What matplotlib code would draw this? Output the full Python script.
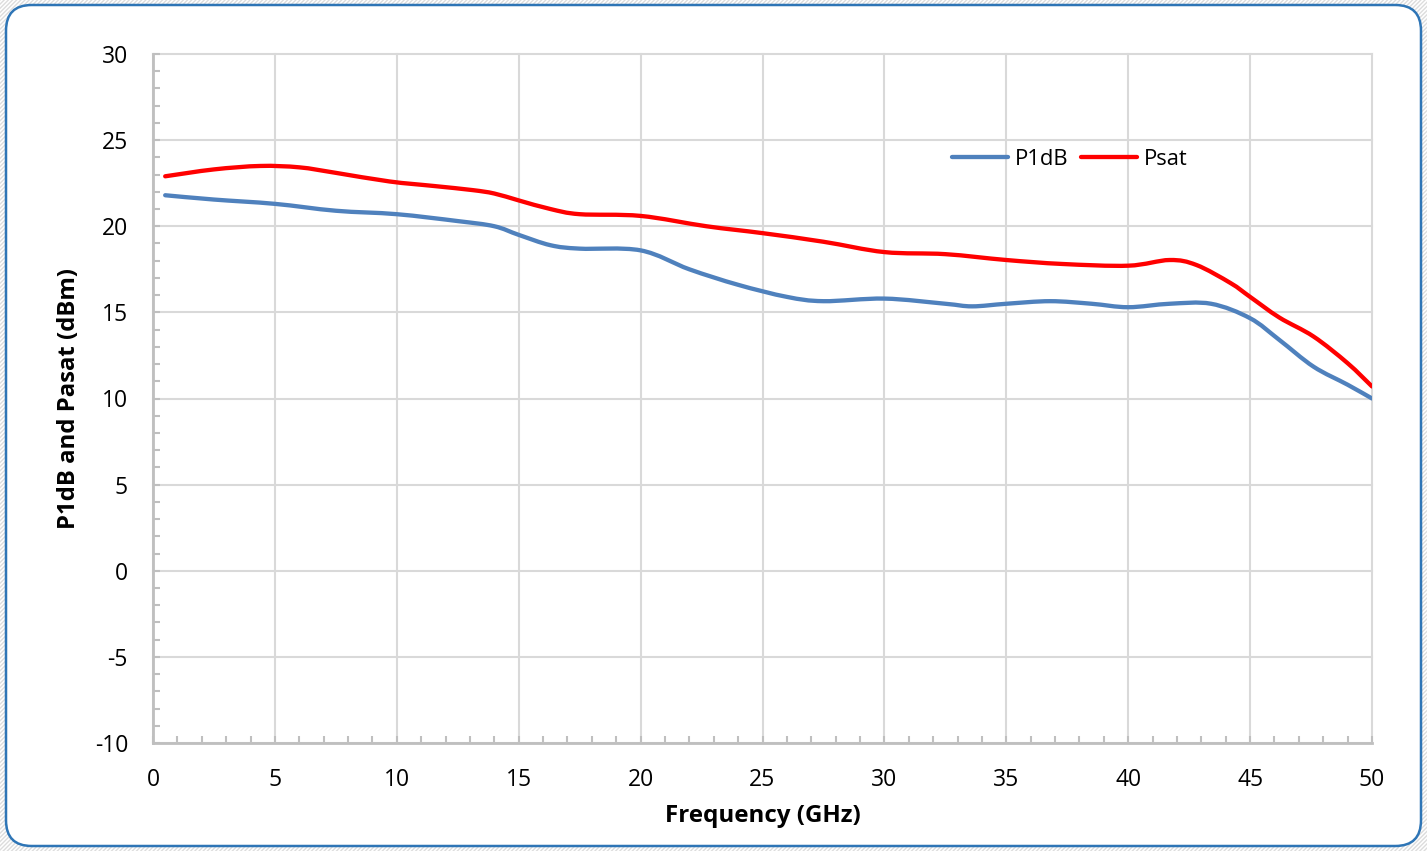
import numpy as np
import matplotlib
matplotlib.use("Agg")
import matplotlib.pyplot as plt
from matplotlib.patches import FancyBboxPatch, PathPatch
from matplotlib.path import Path
from matplotlib.lines import Line2D
from matplotlib.ticker import MultipleLocator

# valeurs
freq_p1db = [0.5, 2.5, 5, 7.5, 10, 12.5, 14, 15, 16.3, 17.5, 20, 22, 24, 26, 27.5,
             30, 32.5, 33.6, 35, 36.8, 38.5, 40, 41.7, 43.4, 45, 46.2, 47.6, 49, 50]
p1db = [21.8, 21.55, 21.3, 20.9, 20.7, 20.3, 20.0, 19.5, 18.9, 18.7, 18.6, 17.5, 16.6, 15.9, 15.65,
        15.8, 15.5, 15.35, 15.5, 15.65, 15.5, 15.3, 15.5, 15.5, 14.66, 13.4, 11.85, 10.8, 10.0]

freq_psat = [0.5, 2.5, 4.4, 6, 7.5, 9.7, 11.5, 13.1, 14, 15, 16.3, 17.5, 20, 22.7, 25,
             27.5, 30, 32.5, 35, 37.3, 40, 41.7, 42.8, 44.2, 45, 46.2, 47.6, 49, 50]
psat = [22.9, 23.3, 23.5, 23.42, 23.1, 22.6, 22.34, 22.1, 21.9, 21.5, 21.0, 20.7, 20.6, 20.0, 19.6,
        19.1, 18.5, 18.38, 18.04, 17.81, 17.71, 18.04, 17.75, 16.7, 15.9, 14.7, 13.6, 12.05, 10.7]

plt.rcParams['font.family'] = ['Open Sans', 'DejaVu Sans']
plt.rcParams['axes.unicode_minus'] = False
plt.rcParams['hatch.color'] = '#DCDCDC'
plt.rcParams['hatch.linewidth'] = 1.0


def smooth_path(x, y):
    # courbe lissée façon Excel (Bezier passant par chaque point)
    pts = np.column_stack([x, y]).astype(float)
    verts = [pts[0]]
    codes = [Path.MOVETO]
    n = len(pts)
    for i in range(n - 1):
        p0 = pts[i - 1] if i > 0 else pts[i]
        p1 = pts[i]
        p2 = pts[i + 1]
        p3 = pts[i + 2] if i + 2 < n else pts[i + 1]
        c1 = p1 + (p2 - p0) / 6
        c2 = p2 - (p3 - p1) / 6
        verts += [c1, c2, p2]
        codes += [Path.CURVE4] * 3
    return Path(verts, codes)


fig = plt.figure(figsize=(14.27, 8.51), dpi=100)
fig.patch.set_facecolor('white')
fig.patch.set_hatch('////////')
fig.patch.set_edgecolor('#DCDCDC')

# cadre arrondi bleu
frame = FancyBboxPatch((6 / 1427, 5 / 851), 1415 / 1427, 841 / 851,
                       boxstyle="round,pad=0,rounding_size=0.018",
                       transform=fig.transFigure, facecolor='white',
                       edgecolor='#2E75B6', linewidth=1.8, zorder=-10,
                       mutation_aspect=1427 / 851)
fig.patches.append(frame)

ax = fig.add_axes([153 / 1427, 1 - 743 / 851, (1372 - 153) / 1427, (743 - 54) / 851])
ax.set_zorder(1)
ax.patch.set_alpha(0)

blue = '#4F81BD'
red = '#FF0000'
ax.add_patch(PathPatch(smooth_path(freq_p1db, p1db), fill=False, edgecolor=blue,
                       lw=3.1, capstyle='round', joinstyle='round', zorder=3))
ax.add_patch(PathPatch(smooth_path(freq_psat, psat), fill=False, edgecolor=red,
                       lw=3.1, capstyle='round', joinstyle='round', zorder=3))

ax.set_xlim(0, 50)
ax.set_ylim(-10, 30)
ax.xaxis.set_major_locator(MultipleLocator(5))
ax.xaxis.set_minor_locator(MultipleLocator(1))
ax.yaxis.set_major_locator(MultipleLocator(5))
ax.yaxis.set_minor_locator(MultipleLocator(1))

ax.grid(True, which='major', color='#D9D9D9', lw=1.5, zorder=1)
for g in ax.get_xgridlines() + ax.get_ygridlines():
    g.set_clip_on(False)

for s in ['top', 'right']:
    ax.spines[s].set_visible(False)
for s in ['left', 'bottom']:
    ax.spines[s].set_color('#BFBFBF')
    ax.spines[s].set_linewidth(2)

ax.tick_params(which='both', direction='in', color='#BFBFBF', width=1.5)
ax.tick_params(which='major', length=5, labelsize=16.5)
ax.tick_params(which='minor', length=5)
ax.tick_params(axis='x', which='major', pad=18)
ax.tick_params(axis='y', which='major', pad=18)

ax.set_xlabel('Frequency (GHz)', fontsize=17.4, fontweight='bold', labelpad=9)
ax.set_ylabel('P1dB and Pasat (dBm)', fontsize=17.2, fontweight='bold', labelpad=10)

handles = [Line2D([], [], color=blue, lw=3.1, solid_capstyle='round'),
           Line2D([], [], color=red, lw=3.1, solid_capstyle='round')]
ax.legend(handles, ['P1dB', 'Psat'], loc='center left', bbox_to_anchor=(0.6555, 0.8476),
          frameon=False, ncol=2, fontsize=15.8, handlelength=2.55, handletextpad=0.32,
          columnspacing=0.55, borderaxespad=0, borderpad=0)

fig.savefig('out.png', dpi=100, facecolor=fig.get_facecolor())
